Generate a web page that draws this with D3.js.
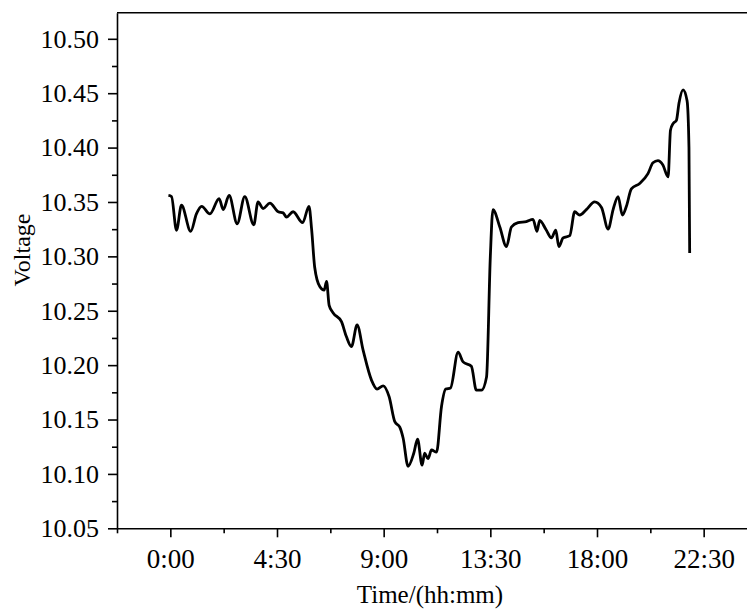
<!DOCTYPE html>
<html>
<head>
<meta charset="utf-8">
<script src="https://cdn.jsdelivr.net/npm/d3@7"></script>
<style>
  html, body { margin: 0; padding: 0; background: #fff; }
  svg { display: block; font-family: "Liberation Serif", "Times New Roman", serif; }
</style>
</head>
<body>
<div id="chart"></div>
<script>
// time in hours, voltage
const hours = [
  -0.08, 0.05, 0.26, 0.47, 0.86, 1.10, 1.32, 1.67, 2.06, 2.23,
  2.48, 2.82, 3.14, 3.52, 3.70, 3.91, 4.20, 4.55, 4.76, 4.90,
  5.18, 5.58, 5.85, 5.96, 6.09, 6.31, 6.49, 6.59, 6.70, 6.87,
  7.22, 7.43, 7.64, 7.88, 8.13, 8.49, 8.72, 8.98, 9.23, 9.47,
  9.68, 9.82, 10.03, 10.27, 10.43, 10.62, 10.73, 10.87, 11.02, 11.23,
  11.44, 11.62, 11.82, 12.14, 12.35, 12.70, 12.91, 13.13, 13.34, 13.50,
  13.61, 13.90, 14.18, 14.39, 14.67, 15.02, 15.30, 15.47, 15.58, 15.84,
  16.08, 16.26, 16.39, 16.57, 16.85, 17.06, 17.27, 17.55, 17.90, 18.19,
  18.47, 18.68, 18.89, 19.07, 19.24, 19.45, 19.80, 20.15, 20.36, 20.57,
  20.78, 21.00, 21.10, 21.21, 21.35, 21.46, 21.63, 21.80, 21.88, 21.91
];
const voltage = [
  10.356, 10.355, 10.324, 10.347, 10.323, 10.339, 10.346, 10.339, 10.353, 10.343,
  10.356, 10.330, 10.355, 10.329, 10.350, 10.344, 10.349, 10.341, 10.340, 10.336,
  10.341, 10.331, 10.346, 10.325, 10.290, 10.272, 10.269, 10.277, 10.255, 10.248,
  10.240, 10.226, 10.217, 10.237, 10.214, 10.186, 10.178, 10.181, 10.171, 10.148,
  10.143, 10.133, 10.107, 10.119, 10.132, 10.108, 10.119, 10.114, 10.122, 10.120,
  10.162, 10.178, 10.179, 10.212, 10.203, 10.199, 10.177, 10.177, 10.189, 10.300,
  10.343, 10.327, 10.309, 10.327, 10.331, 10.332, 10.334, 10.323, 10.333, 10.325,
  10.317, 10.324, 10.309, 10.317, 10.319, 10.341, 10.338, 10.343, 10.350, 10.345,
  10.325, 10.343, 10.355, 10.338, 10.346, 10.362, 10.367, 10.376, 10.386, 10.388,
  10.384, 10.373, 10.416, 10.422, 10.425, 10.441, 10.453, 10.443, 10.400, 10.303
];

const xTicks = [0, 4.5, 9, 13.5, 18, 22.5];
const xTickLabels = ["0:00", "4:30", "9:00", "13:30", "18:00", "22:30"];
const xMinor = [-2.25, 2.25, 6.75, 11.25, 15.75, 20.25, 24.75];
const yTicks = [10.05, 10.10, 10.15, 10.20, 10.25, 10.30, 10.35, 10.40, 10.45, 10.50];
const yMinor = [10.075, 10.125, 10.175, 10.225, 10.275, 10.325, 10.375, 10.425, 10.475];

const width = 747;
const height = 614;
const margin = { top: 12.7, left: 117, bottom: 528.3 };

const data = hours.map((h, i) => ({ h: h, v: voltage[i] }));

const svg = d3.select("#chart").append("svg")
  .attr("width", width)
  .attr("height", height);

const xScale = d3.scaleLinear().domain([-2.25, 24.75]).range([margin.left, 757]);
const yScale = d3.scaleLinear().domain([10.05, 10.524]).range([margin.bottom, margin.top]);

const line = d3.line()
  .x((d) => xScale(d.h))
  .y((d) => yScale(d.v))
  .curve(d3.curveMonotoneX);

// top frame line
svg.append("line")
  .attr("x1", margin.left).attr("x2", width)
  .attr("y1", margin.top).attr("y2", margin.top)
  .attr("stroke", "#000").attr("stroke-width", 1.6);

// minor ticks
svg.append("g")
  .attr("transform", `translate(0,${margin.bottom})`)
  .call(d3.axisBottom(xScale).tickValues(xMinor).tickSize(5).tickFormat(""))
  .call((g) => g.select(".domain").remove())
  .call((g) => g.selectAll("line").attr("stroke-width", 1.6));

svg.append("g")
  .attr("transform", `translate(${margin.left},0)`)
  .call(d3.axisLeft(yScale).tickValues(yMinor).tickSize(5).tickFormat(""))
  .call((g) => g.select(".domain").remove())
  .call((g) => g.selectAll("line").attr("stroke-width", 1.6));

// x axis
svg.append("g")
  .attr("class", "x-axis")
  .attr("transform", `translate(0,${margin.bottom})`)
  .call(
    d3.axisBottom(xScale)
      .tickValues(xTicks)
      .tickFormat((d, i) => xTickLabels[i])
      .tickSize(9)
      .tickSizeOuter(0)
      .tickPadding(12)
  )
  .call((g) => g.select(".domain").attr("stroke-width", 1.6))
  .call((g) => g.selectAll(".tick line").attr("stroke-width", 1.6))
  .call((g) =>
    g.selectAll("text")
      .style("font-size", "27px")
      .style("font-family", "'Liberation Serif', 'Times New Roman', serif")
      .attr("fill", "#000")
  );

// y axis
svg.append("g")
  .attr("class", "y-axis")
  .attr("transform", `translate(${margin.left},0)`)
  .call(
    d3.axisLeft(yScale)
      .tickValues(yTicks)
      .tickFormat(d3.format(".2f"))
      .tickSize(9)
      .tickSizeOuter(0)
      .tickPadding(9)
  )
  .call((g) => g.select(".domain").attr("stroke-width", 1.6))
  .call((g) => g.selectAll(".tick line").attr("stroke-width", 1.6))
  .call((g) =>
    g.selectAll("text")
      .style("font-size", "26px")
      .style("font-family", "'Liberation Serif', 'Times New Roman', serif")
      .attr("fill", "#000")
  );

// axis titles
svg.append("text")
  .attr("x", 430)
  .attr("y", 603)
  .attr("text-anchor", "middle")
  .style("font-size", "25px")
  .attr("fill", "#000")
  .text("Time/(hh:mm)");

svg.append("text")
  .attr("transform", "translate(30,250) rotate(-90)")
  .attr("text-anchor", "middle")
  .style("font-size", "24px")
  .attr("fill", "#000")
  .text("Voltage");

// voltage line
svg.append("path")
  .datum(data)
  .attr("fill", "none")
  .attr("stroke", "#000")
  .attr("stroke-width", 2.8)
  .attr("stroke-linejoin", "round")
  .attr("d", line);
</script>
</body>
</html>
